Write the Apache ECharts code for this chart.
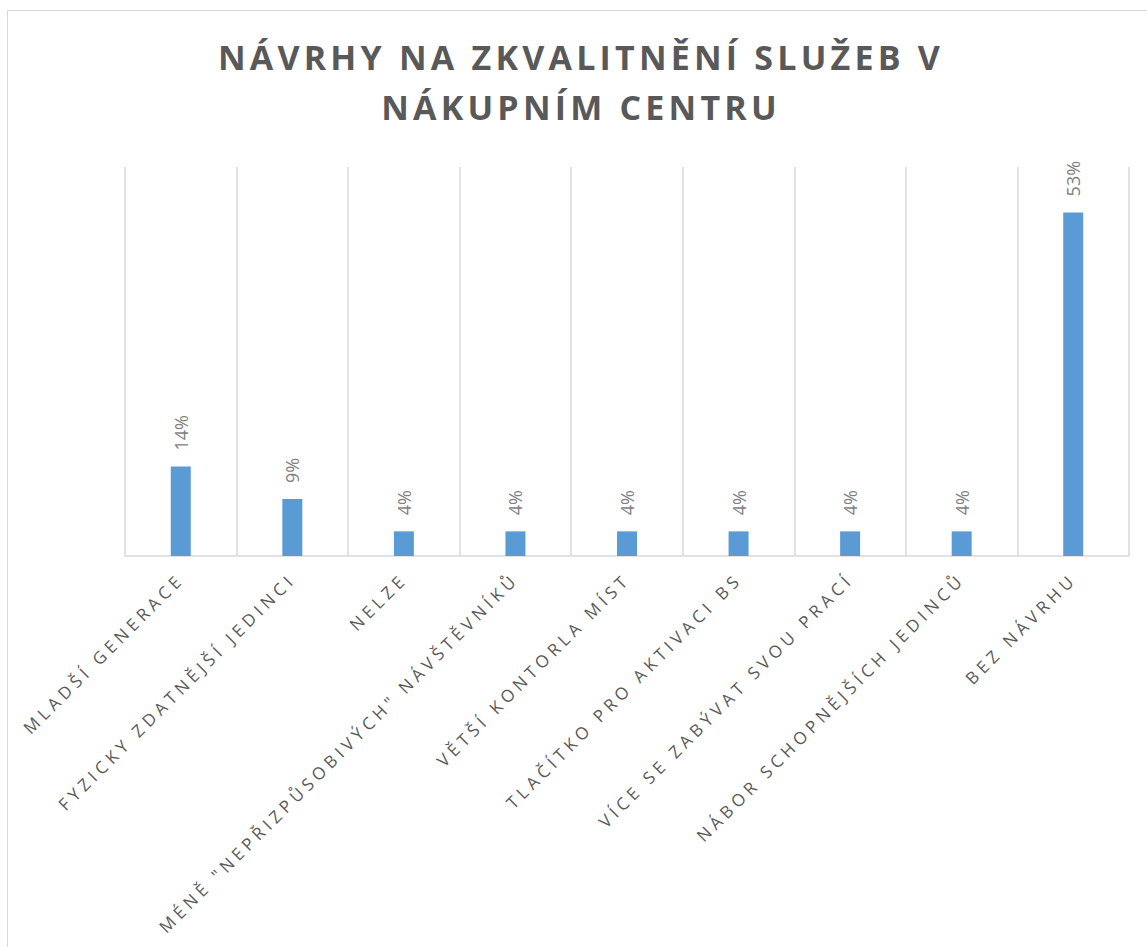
<!DOCTYPE html>
<html>
<head>
<meta charset="utf-8">
<script src="https://cdn.jsdelivr.net/npm/echarts@6/dist/echarts.min.js"></script>
<style>
  html, body { margin: 0; padding: 0; background: #fff; }
  #chart { width: 1147px; height: 947px; }
</style>
</head>
<body>
<div id="chart"></div>
<script>
const titleText = 'NÁVRHY NA ZKVALITNĚNÍ SLUŽEB V\nNÁKUPNÍM CENTRU';
const categories = [
  'MLADŠÍ GENERACE',
  'FYZICKY ZDATNĚJŠÍ JEDINCI',
  'NELZE',
  'MÉNĚ "NEPŘIZPŮSOBIVÝCH" NÁVŠTĚVNÍKŮ',
  'VĚTŠÍ KONTORLA MÍST',
  'TLAČÍTKO PRO AKTIVACI BS',
  'VÍCE SE ZABÝVAT SVOU PRACÍ',
  'NÁBOR SCHOPNĚJŠÍCH JEDINCŮ',
  'BEZ NÁVRHU'
];
const values = [13.8, 8.8, 3.8, 3.8, 3.8, 3.8, 3.8, 3.8, 53.0];
const yMax = 60;

const chart = echarts.init(document.getElementById('chart'), null, { renderer: 'svg' });
const option = {
  animation: false,
  backgroundColor: '#ffffff',
  title: {
    text: titleText,
    left: 576,
    top: 27,
    textAlign: 'center',
    textStyle: {
      fontFamily: 'Open Sans',
      fontWeight: 'bold',
      fontSize: 34,
      color: '#595959',
      lineHeight: 50
    }
  },
  graphic: [{
    type: 'rect',
    shape: { x: 7.5, y: 10.5, width: 1160, height: 960 },
    style: { fill: 'none', stroke: '#d9d9d9', lineWidth: 1 },
    silent: true
  }],
  grid: { left: 125, right: 18, top: 167, bottom: 391 },
  xAxis: {
    type: 'category',
    data: categories,
    boundaryGap: true,
    axisLine: { show: true, lineStyle: { color: '#d9d9d9', width: 1.5 } },
    axisTick: { show: false },
    splitLine: { show: true, lineStyle: { color: '#d9d9d9', width: 1.5 } },
    axisLabel: {
      interval: 0,
      rotate: 45,
      margin: 20,
      fontFamily: 'Open Sans',
      fontSize: 17,
      color: '#595959'
    }
  },
  yAxis: {
    type: 'value',
    min: 0,
    max: yMax,
    show: false,
    splitLine: { show: false }
  },
  series: [{
    type: 'bar',
    data: values,
    barWidth: 20,
    itemStyle: { color: '#5b9bd5' },
    label: {
      show: true,
      position: 'top',
      rotate: 90,
      align: 'left',
      verticalAlign: 'middle',
      distance: 16,
      fontFamily: 'Open Sans',
      fontSize: 18,
      color: '#7f7f7f',
      formatter: p => Math.round(p.value) + '%'
    }
  }]
};
chart.setOption(option);

function applySpacing() {
  document.querySelectorAll('#chart svg text').forEach(t => {
    const fs = parseFloat(getComputedStyle(t).fontSize);
    if (fs >= 30) t.setAttribute('letter-spacing', '4.2');
    else if (fs === 17) t.setAttribute('letter-spacing', '4.5');
  });
}
applySpacing();
chart.on('finished', applySpacing);
</script>
</body>
</html>
